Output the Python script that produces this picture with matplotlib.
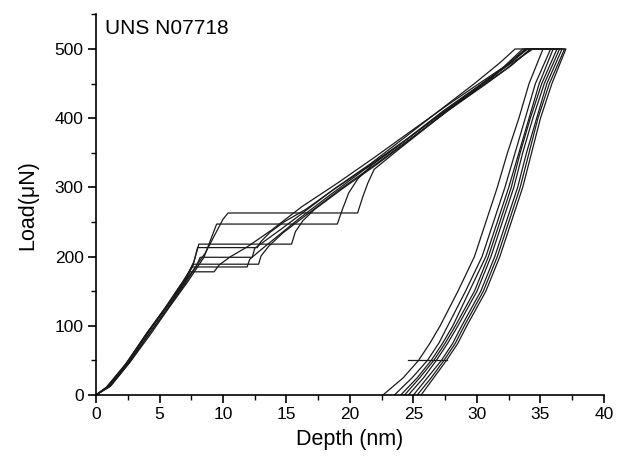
import matplotlib
matplotlib.use("Agg")
import matplotlib.pyplot as plt
from matplotlib.ticker import MultipleLocator

plt.rcParams["font.family"] = ["Liberation Sans", "DejaVu Sans"]

# loading branch (incl. pop-in and hold at 500 uN) and unloading branch, per indent
c1_depth = [0, 1.0, 2.5, 4.0, 5.6, 7.1, 8.6, 10.0, 10.4, 20.6, 21.0, 21.4, 21.9, 23.5, 25.9, 28.3, 31.0, 33.6, 35.8]
c1_load = [0, 13, 47, 88, 128, 166, 205, 254, 263, 263, 286, 306, 326, 350, 385, 420, 455, 500, 500]
c2_depth = [0, 1.2, 2.7, 4.3, 5.7, 7.2, 8.5, 9.5, 19.0, 19.4, 19.9, 20.6, 21.7, 23.8, 26.3, 28.9, 31.6, 34.0, 37.0]
c2_load = [0, 14, 48, 88, 125, 163, 199, 247, 247, 268, 292, 312, 332, 360, 395, 430, 465, 500, 500]
c3_depth = [0, 0.8, 2.3, 3.9, 5.5, 6.9, 7.7, 8.1, 15.4, 15.7, 16.3, 17.2, 19.4, 22.1, 24.8, 27.5, 30.2, 32.5, 34.3, 36.0]
c3_load = [0, 11, 44, 86, 125, 163, 192, 218, 218, 236, 252, 268, 298, 333, 370, 408, 444, 474, 500, 500]
c4_depth = [0, 1.0, 2.5, 4.0, 5.6, 7.1, 7.7, 8.0, 12.7, 13.0, 13.7, 14.8, 16.5, 18.8, 21.8, 24.5, 27.3, 30.0, 32.2, 33.8, 36.3]
c4_load = [0, 12, 46, 88, 128, 168, 192, 213, 213, 222, 235, 250, 268, 298, 335, 370, 410, 445, 475, 500, 500]
c5_depth = [0, 1.1, 2.6, 4.1, 5.7, 7.1, 7.9, 8.2, 12.3, 12.5, 13.4, 14.6, 16.2, 18.7, 21.6, 24.3, 27.1, 29.8, 31.8, 33.0, 35.2]
c5_load = [0, 13, 47, 87, 126, 163, 186, 199, 199, 212, 224, 240, 262, 297, 334, 372, 412, 450, 480, 500, 500]
c6_depth = [0, 0.9, 2.4, 3.9, 5.4, 6.8, 7.7, 12.8, 13.0, 13.6, 14.7, 16.7, 19.2, 22.2, 25.1, 27.8, 30.6, 32.7, 34.2, 36.5]
c6_load = [0, 12, 46, 87, 125, 163, 189, 189, 201, 215, 234, 262, 297, 336, 375, 412, 448, 476, 500, 500]
c7_depth = [0, 1.0, 2.5, 4.0, 5.5, 6.9, 7.6, 11.9, 12.1, 13.0, 14.2, 16.0, 18.5, 21.3, 24.2, 26.9, 29.7, 32.1, 34.4, 36.7]
c7_load = [0, 13, 48, 89, 127, 165, 185, 185, 196, 210, 228, 255, 290, 328, 366, 402, 440, 472, 500, 500]
c8_depth = [0, 1.1, 2.6, 4.1, 5.6, 7.0, 7.4, 9.3, 9.7, 10.6, 11.9, 13.8, 16.2, 19.0, 21.9, 24.7, 27.6, 30.4, 32.6, 33.9, 36.9]
c8_load = [0, 12, 46, 86, 124, 163, 178, 178, 188, 200, 214, 238, 272, 306, 343, 380, 418, 453, 480, 500, 500]

unload_load = [500, 450, 400, 350, 300, 250, 200, 150, 100, 75, 50, 25, 0]
u1_depth = [35.8, 34.6, 33.8, 33.0, 32.2, 31.3, 30.4, 29.1, 27.7, 27.0, 26.1, 24.9, 23.5]
u2_depth = [37.0, 35.9, 35.0, 34.3, 33.6, 32.7, 31.8, 30.7, 29.2, 28.5, 27.6, 26.6, 25.6]
u3_depth = [36.0, 34.9, 34.1, 33.3, 32.5, 31.6, 30.7, 29.4, 28.1, 27.3, 26.4, 25.3, 24.0]
u4_depth = [36.3, 35.1, 34.2, 33.4, 32.7, 31.8, 30.9, 29.8, 28.3, 27.5, 26.6, 25.5, 24.3]
u5_depth = [35.2, 34.1, 33.3, 32.4, 31.6, 30.7, 29.8, 28.5, 27.1, 26.3, 25.4, 24.2, 22.6]
u6_depth = [36.5, 35.3, 34.4, 33.6, 32.9, 32.0, 31.1, 30.0, 28.5, 27.7, 26.8, 25.8, 24.6]
u7_depth = [36.7, 35.5, 34.7, 33.9, 33.2, 32.3, 31.4, 30.3, 28.8, 28.1, 27.2, 26.1, 25.0]
u8_depth = [36.9, 35.7, 34.8, 34.1, 33.4, 32.5, 31.6, 30.5, 29.0, 28.3, 27.4, 26.4, 25.3]

# drift-correction hold near 10 % load
drift_depth = [24.6, 27.6]
drift_load = [50, 50]

curves = [
    (c1_depth, c1_load, u1_depth), (c2_depth, c2_load, u2_depth),
    (c3_depth, c3_load, u3_depth), (c4_depth, c4_load, u4_depth),
    (c5_depth, c5_load, u5_depth), (c6_depth, c6_load, u6_depth),
    (c7_depth, c7_load, u7_depth), (c8_depth, c8_load, u8_depth),
]

fig = plt.figure(figsize=(6.17, 4.61), dpi=100)
ax = fig.add_axes([0.1556, 0.1432, 0.8233, 0.8256])

for d, p, u in curves:
    ax.plot(d + u[1:], p + unload_load[1:], color="#1a1a1a", lw=0.9)
ax.plot(drift_depth, drift_load, color="#1a1a1a", lw=0.9)

ax.set_xlim(0, 40)
ax.set_ylim(0, 550)
ax.xaxis.set_major_locator(MultipleLocator(5))
ax.xaxis.set_minor_locator(MultipleLocator(2.5))
ax.yaxis.set_major_locator(MultipleLocator(100))
ax.yaxis.set_minor_locator(MultipleLocator(50))
ax.set_yticks([0, 100, 200, 300, 400, 500])
for s in ("top", "right"):
    ax.spines[s].set_visible(False)
for s in ("left", "bottom"):
    ax.spines[s].set_linewidth(1.2)
ax.tick_params(which="major", direction="out", length=6, width=1.2, labelsize=12.5, pad=3)
ax.tick_params(which="minor", direction="out", length=3.5, width=1.0)

ax.set_xlabel("Depth (nm)", fontsize=15.5, labelpad=5)
ax.set_ylabel("Load(μN)", fontsize=15.5, labelpad=12)
ax.text(0.0175, 0.964, "UNS N07718", transform=ax.transAxes, fontsize=15,
        ha="left", va="center")

fig.savefig("out.png", dpi=100)
